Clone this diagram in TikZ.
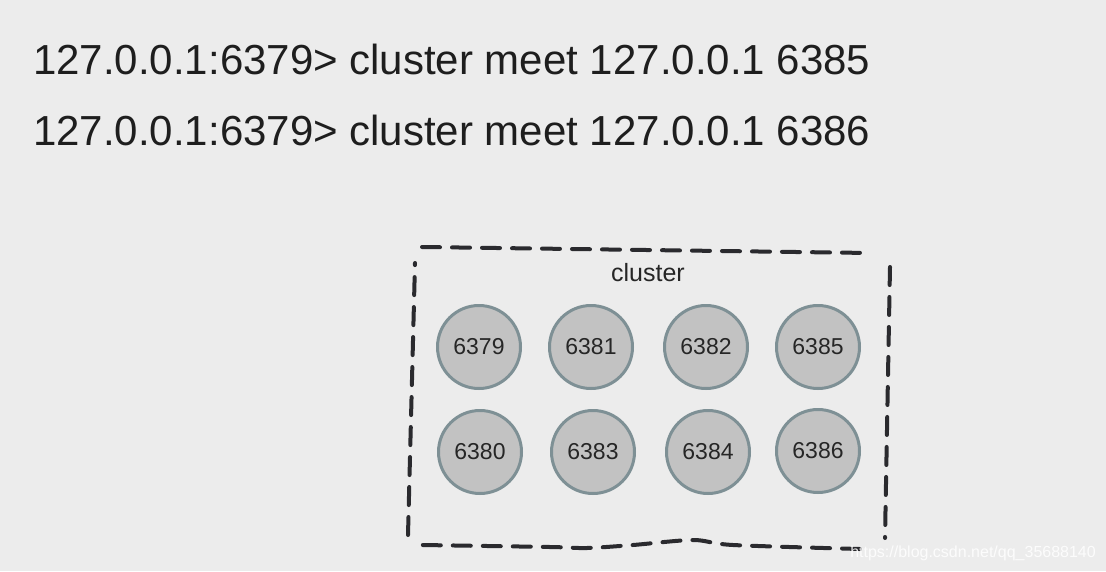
\documentclass[tikz,border=0pt]{standalone}
\usepackage{fontspec}
\setmainfont{Liberation Sans}
\usetikzlibrary{positioning}
\definecolor{bgcolor}{HTML}{ECECEC}
\definecolor{cmdtext}{HTML}{1E1E1E}
\definecolor{portfill}{HTML}{C2C2C2}
\definecolor{portedge}{HTML}{7E9095}
\definecolor{boxedge}{HTML}{2A2A2E}
\tikzset{
  cmd/.style      = {font=\fontsize{42}{50}\selectfont, text=cmdtext, anchor=base west, inner sep=0pt},
  port/.style     = {circle, draw=portedge, fill=portfill, line width=3pt, minimum size=83pt, inner sep=0pt, text=black!85, font=\fontsize{23}{27}\selectfont},
  grouptitle/.style = {font=\fontsize{25}{30}\selectfont, text=black!85, inner sep=0pt},
  dashbox/.style  = {draw=boxedge, line width=4pt, dash pattern=on 18pt off 12pt, line cap=round},
  mark text/.style = {font=\fontsize{16}{19}\selectfont, text=white, opacity=0.85, anchor=base east, inner sep=0pt}
}

\begin{document}
\begin{tikzpicture}[x=1pt,y=-1pt]
    % background and page size
    \fill[bgcolor] (0,0) rectangle (1106,571);
    \useasboundingbox (0,0) rectangle (1106,571);

    % the two commands
    \node[cmd] (c1) at (33,74) {127.0.0.1:6379> cluster meet 127.0.0.1 6385};
    \node[cmd] (c2) at (33,145) {127.0.0.1:6379> cluster meet 127.0.0.1 6386};

    % dashed cluster border
    \draw[dashbox] (422,247) -- (871,253);
    \draw[dashbox] (890,267) -- (885,538);
    \draw[dashbox] plot[smooth] coordinates {(860,549) (733,545) (693,540) (633,545) (587,548) (550,547) (422,545)};
    \draw[dashbox] (408,535) -- (415,263);

    \node[grouptitle] (title) at (648,273) {cluster};

    % first row of ports
    \node[port] (p6379) at (479,347) {6379};
    \node[port] (p6381) at (591,347) {6381};
    \node[port] (p6382) at (706,347) {6382};
    \node[port] (p6385) at (818,347) {6385};

    % second row of ports
    \node[port] (p6380) at (480,452) {6380};
    \node[port] (p6383) at (593,452) {6383};
    \node[port] (p6384) at (708,452) {6384};
    \node[port] (p6386) at (818,451) {6386};

    \node[mark text] (mark) at (1096,557) {https://blog.csdn.net/qq\_35688140};
\end{tikzpicture}
\end{document}
